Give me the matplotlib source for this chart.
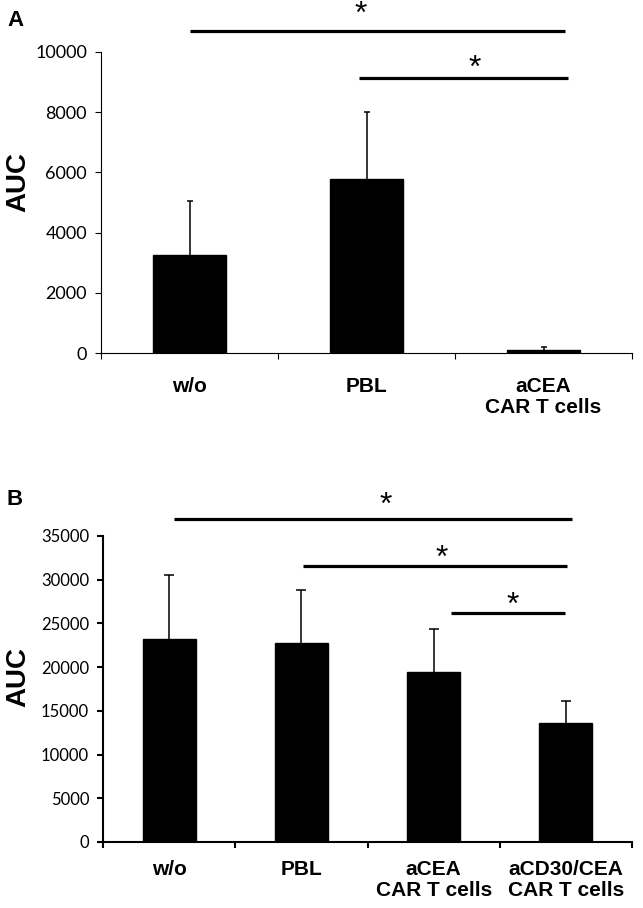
import numpy as np
import matplotlib
matplotlib.use('Agg')
import matplotlib.pyplot as plt

# panel A
cats_a = ['w/o', 'PBL', 'aCEA\nCAR T cells']
auc_a = [3270, 5780, 110]
err_a = [1790, 2230, 100]
# significance bars A: (x start, x end, y, star x, star y)
sig_a = [(0.0, 2.12, 10700, 0.97, 10950),
         (0.96, 2.14, 9140, 1.61, 9180)]

# panel B
cats_b = ['w/o', 'PBL', 'aCEA\nCAR T cells', 'aCD30/CEA\nCAR T cells']
auc_b = [23200, 22800, 19400, 13600]
err_b = [7300, 6000, 5000, 2500]
sig_b = [(0.04, 3.05, 36940, 1.64, 37500),
         (1.01, 3.01, 31570, 2.06, 31450),
         (2.13, 2.99, 26230, 2.60, 26100)]

tick_font = 'Lato'
lab_font = 'Liberation Sans'

fig = plt.figure(figsize=(6.43, 9.08), dpi=100)


def panel(ax, cats, vals, errs, sig, ymax, ystep, width, spine_lw, tick_size, cap, lab_pad):
    n = len(cats)
    x = np.arange(n)
    ax.bar(x, vals, width=width, color='black', edgecolor='black', zorder=2)
    eb = ax.errorbar(x, vals, yerr=[np.zeros(n), errs], fmt='none', ecolor='black',
                     elinewidth=1.1, capsize=cap, capthick=1.1, zorder=1)
    # only the upper cap is drawn
    eb[1][0].set_visible(False)
    ax.set_xlim(-0.5, n - 0.5)
    ax.set_ylim(0, ymax)
    ax.set_yticks(np.arange(0, ymax + 1, ystep))
    ax.set_xticks(np.arange(n + 1) - 0.5)
    ax.set_xticklabels([])
    ax.set_xticks(x, minor=True)
    ax.set_xticklabels(cats, minor=True, fontsize=15, fontweight='bold',
                       family=lab_font, linespacing=1.15)
    ax.tick_params(axis='x', which='minor', length=0, pad=lab_pad)
    ax.tick_params(axis='x', which='major', length=4, width=spine_lw, direction='out')
    ax.tick_params(axis='y', length=4, width=spine_lw, direction='out', pad=6,
                   labelsize=tick_size)
    for lbl in ax.get_yticklabels():
        lbl.set_family(tick_font)
    for s in ['top', 'right']:
        ax.spines[s].set_visible(False)
    ax.spines['left'].set_linewidth(spine_lw)
    ax.spines['bottom'].set_linewidth(spine_lw)
    for x0, x1, y, sx, sy in sig:
        ax.plot([x0, x1], [y, y], color='black', lw=2.3, clip_on=False,
                solid_capstyle='butt')
        ax.text(sx, sy, '*', ha='center', va='baseline', fontsize=23,
                family=lab_font, clip_on=False)


ax_a = fig.add_axes([101 / 643, 1 - 353 / 908, 531 / 643, 301 / 908])
panel(ax_a, cats_a, auc_a, err_a, sig_a, 10000, 2000, 0.41, 0.8, 13, 2.5, 17)

ax_b = fig.add_axes([103 / 643, 1 - 842 / 908, 529 / 643, 306 / 908])
panel(ax_b, cats_b, auc_b, err_b, sig_b, 35000, 5000, 0.40, 1.5, 12, 3.5, 13)

fig.text(18 / 643, 1 - 182 / 908, 'AUC', rotation=90, ha='center', va='center',
         fontsize=20, fontweight='bold', family=lab_font)
fig.text(18 / 643, 1 - 677 / 908, 'AUC', rotation=90, ha='center', va='center',
         fontsize=20, fontweight='bold', family=lab_font)
fig.text(15 / 643, 1 - 21 / 908, 'A', ha='center', va='center',
         fontsize=16, fontweight='bold', family=lab_font)
fig.text(15 / 643, 1 - 500 / 908, 'B', ha='center', va='center',
         fontsize=16, fontweight='bold', family=lab_font)

fig.savefig('out.png', dpi=100)
